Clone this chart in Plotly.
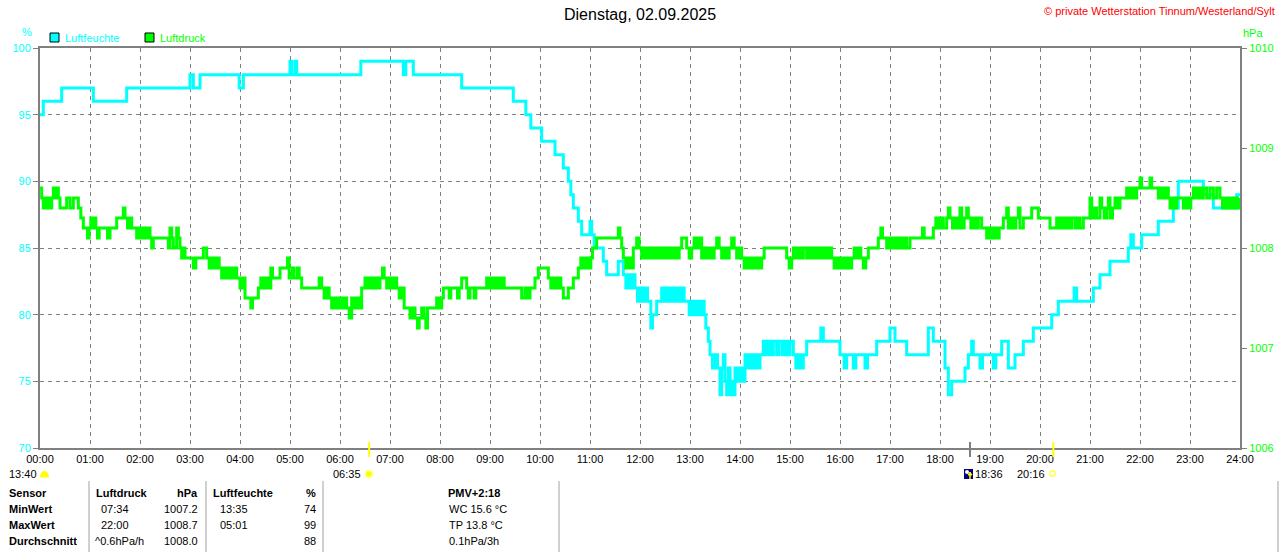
import plotly.graph_objects as go

# ---------------- data ----------------
title_text = "Dienstag, 02.09.2025"
copyright_text = "© private Wetterstation Tinnum/Westerland/Sylt"

hour_ticks = list(range(25))
hour_labels = ["00:00", "01:00", "02:00", "03:00", "04:00", "05:00", "06:00", "07:00",
               "08:00", "09:00", "10:00", "11:00", "12:00", "13:00", "14:00", "15:00",
               "16:00", "17:00", "18:00", "19:00", "20:00", "21:00", "22:00", "23:00", "24:00"]
hum_ticks = [70, 75, 80, 85, 90, 95, 100]
pres_ticks = [1006, 1007, 1008, 1009, 1010]

# Luftfeuchte (%), minute of day
hum_min = [0, 4, 26, 64, 104, 180, 184, 192, 239, 244, 300, 302, 306, 308, 385, 436, 439, 448,
           506, 568, 583, 589, 602, 618, 628, 634, 637, 640, 646, 650, 660, 662, 665, 676, 680,
           694, 700, 703, 706, 709, 712, 714, 717, 720, 723, 726, 729, 733, 735, 740, 746, 749,
           752, 755, 758, 761, 764, 767, 770, 773, 776, 779, 782, 785, 788, 791, 794, 797, 799,
           802, 804, 807, 810, 813, 816, 818, 820, 822, 824, 826, 828, 830, 832, 834, 837, 840,
           843, 846, 849, 852, 855, 858, 861, 864, 868, 871, 874, 877, 880, 884, 887, 891, 894,
           897, 900, 904, 907, 910, 913, 916, 920, 937, 940, 960, 965, 968, 976, 979, 990, 993,
           1004, 1020, 1026, 1040, 1066, 1072, 1086, 1090, 1094, 1110, 1114, 1118, 1120, 1128,
           1131, 1144, 1147, 1154, 1162, 1170, 1180, 1192, 1214, 1222, 1241, 1244, 1264, 1272,
           1284, 1306, 1309, 1312, 1322, 1342, 1360, 1366, 1396, 1408, 1436, 1440]
hum_pct = [95, 96, 97, 96, 97, 98, 97, 98, 97, 98, 99, 98, 99, 98, 99, 98, 99, 98,
           97, 96, 95, 94, 93, 92, 91, 90, 89, 88, 87, 86, 87, 86, 85, 84, 83,
           84, 83, 82, 83, 82, 83, 82, 81, 82, 81, 82, 81, 79, 80, 81, 82, 81,
           82, 81, 82, 81, 82, 81, 82, 81, 81, 80, 81, 80, 81, 80, 81, 80, 79,
           78, 77, 76, 77, 76, 74, 76, 77, 75, 74, 76, 74, 75, 74, 76, 75, 76,
           75, 77, 76, 77, 76, 77, 76, 77, 78, 77, 78, 77, 78, 77, 78, 77, 78,
           77, 78, 77, 76, 77, 76, 77, 78, 79, 78, 77, 76, 77, 76, 77, 76, 77,
           78, 79, 78, 77, 79, 78, 76, 74, 75, 76, 77, 78, 77, 76,
           77, 76, 77, 78, 76, 77, 78, 79, 80, 81, 82, 81, 82, 83,
           84, 85, 86, 85, 86, 87, 88, 90, 89, 88, 89, 89]

# Luftdruck (hPa), minute of day
pres_min = [0, 2, 4, 6, 8, 10, 12, 14, 16, 18, 20, 22, 24, 32, 36, 40, 46, 49, 52, 57, 59, 61,
            63, 65, 67, 69, 71, 81, 84, 92, 100, 102, 105, 107, 110, 116, 118, 121, 124, 127,
            130, 132, 134, 136, 154, 156, 158, 160, 164, 166, 168, 170, 172, 174, 184, 187,
            196, 200, 203, 206, 209, 212, 215, 218, 221, 224, 227, 230, 233, 236, 240, 243,
            246, 253, 255, 262, 265, 268, 271, 274, 277, 279, 288, 297, 299, 303, 305, 309,
            311, 314, 335, 338, 341, 344, 347, 350, 353, 356, 359, 362, 365, 368, 371, 374,
            377, 380, 383, 386, 390, 393, 396, 399, 402, 405, 408, 411, 413, 416, 419, 422,
            425, 428, 431, 434, 437, 444, 447, 450, 453, 455, 458, 461, 463, 465, 476, 479,
            482, 484, 491, 493, 501, 503, 506, 512, 514, 516, 521, 523, 536, 539, 542, 545,
            548, 551, 554, 557, 578, 582, 585, 588, 594, 598, 610, 613, 616, 619, 622, 625,
            628, 634, 640, 646, 649, 652, 655, 658, 661, 663, 668, 694, 696, 698, 700, 703,
            706, 709, 712, 716, 719, 722, 725, 728, 731, 734, 737, 740, 743, 746, 749, 752,
            755, 758, 761, 764, 767, 770, 776, 779, 782, 785, 788, 791, 794, 797, 800, 803,
            806, 809, 812, 815, 818, 821, 824, 827, 830, 833, 836, 839, 842, 845, 848, 851,
            854, 857, 860, 863, 866, 869, 896, 899, 902, 904, 907, 910, 913, 916, 920, 923,
            926, 929, 932, 935, 938, 941, 944, 947, 950, 953, 956, 959, 962, 965, 968, 971,
            974, 977, 980, 983, 985, 988, 991, 994, 1006, 1009, 1011, 1016, 1019, 1022, 1025,
            1028, 1031, 1034, 1037, 1040, 1044, 1059, 1061, 1072, 1075, 1078, 1081, 1084,
            1088, 1090, 1092, 1095, 1098, 1101, 1104, 1106, 1109, 1112, 1114, 1117, 1120,
            1123, 1126, 1130, 1136, 1139, 1142, 1145, 1148, 1151, 1156, 1160, 1162, 1165,
            1168, 1171, 1174, 1176, 1180, 1190, 1198, 1212, 1220, 1223, 1226, 1229, 1232,
            1235, 1238, 1242, 1245, 1248, 1252, 1260, 1262, 1265, 1268, 1272, 1274, 1277,
            1280, 1282, 1284, 1287, 1290, 1293, 1296, 1304, 1307, 1310, 1313, 1316, 1320,
            1322, 1332, 1334, 1342, 1345, 1348, 1351, 1354, 1356, 1359, 1362, 1364, 1372,
            1375, 1378, 1381, 1384, 1387, 1390, 1393, 1396, 1400, 1404, 1408, 1412, 1416,
            1419, 1422, 1425, 1428, 1431, 1434, 1437, 1440]
pres_hpa = [1008.6, 1008.5, 1008.4, 1008.5, 1008.4, 1008.5, 1008.4, 1008.5, 1008.6, 1008.5, 1008.6, 1008.5,
            1008.4, 1008.5, 1008.4, 1008.5, 1008.4, 1008.3, 1008.2, 1008.1, 1008.2, 1008.3,
            1008.2, 1008.3, 1008.2, 1008.1, 1008.2, 1008.1, 1008.2, 1008.3, 1008.4, 1008.3, 1008.2, 1008.3, 1008.2, 1008.1, 1008.2, 1008.1, 1008.2, 1008.1,
            1008.2, 1008.1, 1008.0, 1008.1, 1008.0, 1008.2, 1008.1, 1008.0, 1008.2, 1008.1, 1008.0, 1007.9, 1008.0, 1007.9, 1007.8, 1007.9,
            1008.0, 1007.9, 1007.8, 1007.9, 1007.8, 1007.9, 1007.8, 1007.7, 1007.8, 1007.7, 1007.8, 1007.7, 1007.8, 1007.7, 1007.6, 1007.7,
            1007.5, 1007.4, 1007.5, 1007.6, 1007.7, 1007.6, 1007.7, 1007.6, 1007.8, 1007.7, 1007.8, 1007.9, 1007.7, 1007.8, 1007.7, 1007.8,
            1007.7, 1007.6, 1007.7, 1007.6, 1007.5, 1007.6, 1007.5, 1007.4, 1007.5, 1007.4, 1007.5, 1007.4, 1007.5, 1007.4, 1007.3, 1007.5,
            1007.4, 1007.5, 1007.4, 1007.6, 1007.7, 1007.6, 1007.7, 1007.6, 1007.7, 1007.6, 1007.7, 1007.8, 1007.7, 1007.6, 1007.7, 1007.6,
            1007.7, 1007.6, 1007.5, 1007.6, 1007.4, 1007.3, 1007.4, 1007.3, 1007.2, 1007.3, 1007.4, 1007.3, 1007.2, 1007.4, 1007.5, 1007.4,
            1007.5, 1007.6, 1007.5, 1007.6, 1007.5, 1007.6, 1007.7, 1007.6, 1007.5, 1007.6, 1007.5, 1007.6, 1007.7, 1007.6, 1007.7, 1007.6,
            1007.7, 1007.6, 1007.7, 1007.6, 1007.5, 1007.6, 1007.5, 1007.6, 1007.7, 1007.8, 1007.7, 1007.6, 1007.7, 1007.6, 1007.7, 1007.6,
            1007.5, 1007.6, 1007.7, 1007.8, 1007.9, 1007.8, 1007.9, 1007.8, 1007.9, 1008.0, 1008.1, 1008.2, 1008.1, 1008.0, 1007.9, 1007.8,
            1007.9, 1007.8, 1008.0, 1008.1, 1008.0, 1007.9, 1008.0, 1007.9, 1008.0, 1007.9, 1008.0, 1007.9, 1008.0, 1007.9, 1008.0, 1007.9,
            1008.0, 1007.9, 1008.0, 1007.9, 1008.0, 1008.1, 1008.0, 1007.9, 1008.0, 1008.1, 1008.0, 1008.1, 1007.9, 1008.0, 1007.9, 1008.0,
            1007.9, 1008.0, 1008.1, 1008.0, 1007.9, 1008.0, 1007.9, 1008.0, 1008.1, 1008.0, 1007.9, 1008.0, 1007.9, 1007.8, 1007.9, 1007.8,
            1007.9, 1007.8, 1007.9, 1007.8, 1007.9, 1008.0, 1007.9, 1007.8, 1007.9, 1008.0, 1007.9, 1008.0, 1007.9, 1008.0, 1007.9, 1008.0,
            1007.9, 1008.0, 1007.9, 1008.0, 1007.9, 1008.0, 1007.9, 1008.0, 1007.9, 1007.8, 1007.9, 1007.8, 1007.9, 1007.8, 1007.9, 1007.8,
            1007.9, 1008.0, 1007.9, 1008.0, 1007.9, 1007.8, 1007.9, 1008.0, 1008.1, 1008.2, 1008.1, 1008.0, 1008.1, 1008.0, 1008.1,
            1008.0, 1008.1, 1008.0, 1008.1, 1008.0, 1008.1, 1008.2, 1008.1, 1008.2, 1008.3, 1008.2, 1008.3, 1008.2,
            1008.3, 1008.4, 1008.3, 1008.2, 1008.3, 1008.2, 1008.4, 1008.2, 1008.3, 1008.4, 1008.3, 1008.2, 1008.3,
            1008.2, 1008.3, 1008.2, 1008.1, 1008.2, 1008.1, 1008.2, 1008.1, 1008.2, 1008.3, 1008.4, 1008.2, 1008.3,
            1008.2, 1008.3, 1008.4, 1008.2, 1008.3, 1008.4, 1008.3, 1008.2, 1008.3, 1008.2, 1008.3, 1008.2, 1008.3,
            1008.2, 1008.3, 1008.2, 1008.3, 1008.2, 1008.3, 1008.5, 1008.3, 1008.4, 1008.3, 1008.5, 1008.4, 1008.3,
            1008.4, 1008.5, 1008.3, 1008.4, 1008.5, 1008.4, 1008.5, 1008.6, 1008.5, 1008.6, 1008.5, 1008.6, 1008.7,
            1008.6, 1008.7, 1008.6, 1008.5, 1008.6, 1008.5, 1008.6, 1008.5, 1008.4, 1008.5, 1008.4, 1008.5, 1008.4,
            1008.5, 1008.4, 1008.5, 1008.6, 1008.5, 1008.6, 1008.5, 1008.6, 1008.5, 1008.6, 1008.5, 1008.6, 1008.5,
            1008.4, 1008.5, 1008.4, 1008.5, 1008.4, 1008.5, 1008.4, 1008.5]

# table below the chart
table_header = ["Sensor", "Luftdruck", "hPa", "Luftfeuchte", "%", "PMV+2:18"]
row_labels = ["MinWert", "MaxWert", "Durchschnitt"]
pres_times = ["07:34", "22:00", "^0.6hPa/h"]
pres_values = ["1007.2", "1008.7", "1008.0"]
hum_times = ["13:35", "05:01", ""]
hum_values = ["74", "99", "88"]
pmv_lines = ["WC 15.6 °C", "TP 13.8 °C", "0.1hPa/3h"]

# astro events (label, hour)
moon_event_label, moon_event_h = "13:40", 13 + 40 / 60
sunrise_label, sunrise_h = "06:35", 6 + 35 / 60
moon2_label, moon2_h = "18:36", 18 + 36 / 60
sunset_label, sunset_h = "20:16", 20 + 16 / 60

# ---------------- figure ----------------
FONT = "Liberation Sans, Arial, sans-serif"
CYAN = "#00FFFF"
GREEN = "#00FF00"
GRAY = "#808080"
W, H = 1280, 552
L, R, T, B = 40, 40, 48, 104


def px(x):
    return (x - L) / (W - L - R)


def py(y):
    return (H - B - y) / (H - T - B)


fig = go.Figure()
fig.add_trace(go.Scatter(x=[m / 60 for m in pres_min], y=pres_hpa, mode="lines", yaxis="y2",
                         line=dict(color=GREEN, width=3, shape="hv"), name="Luftdruck",
                         showlegend=False))
fig.add_trace(go.Scatter(x=[m / 60 for m in hum_min], y=hum_pct, mode="lines",
                         line=dict(color=CYAN, width=3, shape="hv"), name="Luftfeuchte",
                         showlegend=False))

fig.update_layout(
    width=W, height=H, autosize=False,
    margin=dict(l=L, r=R, t=T, b=B, pad=0, autoexpand=False),
    paper_bgcolor="white", plot_bgcolor="white",
    font=dict(family=FONT, size=11, color="black"),
    xaxis=dict(range=[0, 24], tickvals=hour_ticks, ticktext=hour_labels,
               showgrid=True, gridcolor=GRAY, griddash="4px,4px", gridwidth=1,
               showline=True, linecolor=GRAY, linewidth=2, mirror=True,
               ticks="", zeroline=False, tickfont=dict(size=11, color="black")),
    yaxis=dict(range=[70, 100], tickvals=hum_ticks,
               showgrid=True, gridcolor=GRAY, griddash="4px,4px", gridwidth=1,
               showline=True, linecolor=GRAY, linewidth=2, mirror=True,
               ticks="outside", ticklen=5, tickcolor=GRAY, tickwidth=1,
               zeroline=False, tickfont=dict(size=11, color=CYAN)),
    yaxis2=dict(range=[1006, 1010], tickvals=pres_ticks, overlaying="y", side="right",
                showgrid=False, showline=True, linecolor=GRAY, linewidth=2,
                ticks="outside", ticklen=5, tickcolor=GRAY, tickwidth=1,
                zeroline=False, tickfont=dict(size=11, color=GREEN)),
)

ann = []


def text(x, y, s, color="black", size=11, anchor="left", bold=False):
    if bold:
        s = "<b>" + s + "</b>"
    ann.append(dict(x=px(x), y=py(y), xref="paper", yref="paper", text=s, showarrow=False,
                    xanchor=anchor, yanchor="middle",
                    font=dict(family=FONT, size=size, color=color)))


text(640, 15, title_text, size=16, anchor="center")
text(1277, 11, copyright_text, color="#FF0000", size=11, anchor="right")
text(27, 32, "%", color=CYAN, anchor="center")
text(1241, 33, "hPa", color=GREEN, anchor="left")
text(63, 38, "Luftfeuchte", color=CYAN)
text(158, 38, "Luftdruck", color=GREEN)

# astro labels
text(39, 474, moon_event_label, anchor="right")
text(363, 474, sunrise_label, anchor="right")
text(973, 474, moon2_label, anchor="left")
text(1047, 474, sunset_label, anchor="right")

# table
rows_y = [509, 525, 541]
text(7, 493, table_header[0], bold=True)
text(94, 493, table_header[1], bold=True)
text(200, 493, table_header[2], bold=True, anchor="right")
text(211, 493, table_header[3], bold=True)
text(318, 493, table_header[4], bold=True, anchor="right")
text(474, 493, table_header[5], bold=True, anchor="center")
for i, yy in enumerate(rows_y):
    text(7, yy, row_labels[i], bold=True)
    text(99 if i < 2 else 93, yy, pres_times[i])
    text(200, yy, pres_values[i], anchor="right")
    text(218, yy, hum_times[i])
    text(318, yy, hum_values[i], anchor="right")
    text(447, yy, pmv_lines[i])

fig.update_layout(annotations=ann)

shapes = []
# legend squares
shapes.append(dict(type="rect", xref="paper", yref="paper", x0=px(50), x1=px(59), y0=py(42), y1=py(33),
                   fillcolor=CYAN, line=dict(color="black", width=1)))
shapes.append(dict(type="rect", xref="paper", yref="paper", x0=px(145), x1=px(154), y0=py(42), y1=py(33),
                   fillcolor=GREEN, line=dict(color="black", width=1)))
# table separators
for xs in [89, 206, 323, 559, 1278]:
    shapes.append(dict(type="line", xref="paper", yref="paper", x0=px(xs), x1=px(xs), y0=py(481), y1=py(552),
                       line=dict(color="#A0A0A0", width=1)))
# event ticks on x axis
shapes.append(dict(type="line", xref="x", yref="paper", x0=sunrise_h, x1=sunrise_h, y0=py(442), y1=py(457),
                   line=dict(color="#FFFF00", width=2)))
shapes.append(dict(type="line", xref="x", yref="paper", x0=sunset_h, x1=sunset_h, y0=py(442), y1=py(457),
                   line=dict(color="#FFFF00", width=2)))
shapes.append(dict(type="line", xref="x", yref="paper", x0=moon2_h, x1=moon2_h, y0=py(442), y1=py(457),
                   line=dict(color=GRAY, width=2)))
# sun icon at sunrise
shapes.append(dict(type="circle", xref="paper", yref="paper", x0=px(364), x1=px(374), y0=py(479), y1=py(469),
                   fillcolor="rgba(255,255,150,0.6)", line=dict(width=0)))
shapes.append(dict(type="circle", xref="paper", yref="paper", x0=px(366), x1=px(372), y0=py(477), y1=py(471),
                   fillcolor="#FFFF00", line=dict(width=0)))
# half disc icon (13:40)
p = "M {:.5f},{:.5f} C {:.5f},{:.5f} {:.5f},{:.5f} {:.5f},{:.5f} Z".format(
    px(40.5), py(477), px(40.5), py(469.5), px(48.5), py(469.5), px(48.5), py(477))
shapes.append(dict(type="path", xref="paper", yref="paper", path=p, fillcolor="#FFFF00", line=dict(color="#FFFF00", width=1)))
# moon icon (18:36)
shapes.append(dict(type="rect", xref="paper", yref="paper", x0=px(964), x1=px(973), y0=py(479), y1=py(469),
                   fillcolor="#000080", line=dict(width=0)))
shapes.append(dict(type="circle", xref="paper", yref="paper", x0=px(965), x1=px(969), y0=py(474), y1=py(470),
                   fillcolor="white", line=dict(width=0)))
shapes.append(dict(type="line", xref="paper", yref="paper", x0=px(970), x1=px(970), y0=py(479), y1=py(473),
                   line=dict(color="#FFFF00", width=1.5)))
p2 = "M {:.5f},{:.5f} L {:.5f},{:.5f} L {:.5f},{:.5f} Z".format(px(968), py(475), px(970), py(472), px(972), py(475))
shapes.append(dict(type="path", xref="paper", yref="paper", path=p2, fillcolor="#FFFF00", line=dict(color="#FFFF00", width=1)))
# sunset icon (20:16)
shapes.append(dict(type="rect", xref="paper", yref="paper", x0=px(1050), x1=px(1055), y0=py(476), y1=py(471),
                   fillcolor="white", line=dict(color="#FFFF00", width=1)))
fig.update_layout(shapes=shapes)

fig.write_html(
    "out.html",
    config={"displayModeBar": False},
    post_script=("document.documentElement.style.margin='0';document.body.style.margin='0';"
                 "document.body.style.overflow='hidden';"
                 "var d=document.getElementById('{plot_id}');d.style.position='fixed';"
                 "d.style.left='0px';d.style.top='0px';"),
)
